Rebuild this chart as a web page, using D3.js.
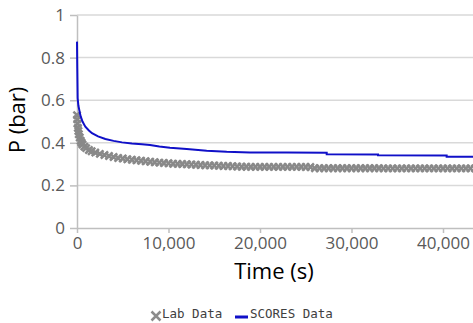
<!DOCTYPE html>
<html><head><meta charset="utf-8">
<script src="https://cdn.jsdelivr.net/npm/d3@7"></script>
<style>body{margin:0;background:#fff}svg{display:block}</style>
</head><body><svg id="c" width="473" height="323"></svg>
<script>
const yTicks = [0, 0.2, 0.4, 0.6, 0.8, 1];
const xTicks = [0, 10000, 20000, 30000, 40000];
const seriesNames = ["Lab Data", "SCORES Data"];
const xTitle = "Time (s)";
const yTitle = "P (bar)";

const labTime = [0,20,50,100,150,200,300,400,500,600,800,1000,1300,1600,
2000,2500,3000,3500,4000,4500,5000,5500,6000,6500,7000,7500,8000,8500,9000,9500,
10000,10500,11000,11500,12000,12500,13000,13500,14000,14500,15000,15500,16000,16500,17000,17500,
18000,18500,19000,19500,20000,20500,21000,21500,22000,22500,23000,23500,24000,24500,25000,25500,
26000,26500,27000,27500,28000,28500,29000,29500,30000,30500,31000,31500,32000,32500,33000,
33500,34000,34500,35000,35500,36000,36500,37000,37500,38000,38500,39000,39500,40000,40500,
41000,41500,42000,42500,43000,43500,44000];
const labP = [0.53,0.51,0.49,0.47,0.455,0.44,0.425,0.41,0.40,0.392,0.382,0.375,0.366,0.36,
0.354,0.348,0.343,0.338,0.333,0.329,0.326,0.323,0.320,0.318,0.316,0.313,0.311,0.309,0.307,0.305,
0.304,0.302,0.301,0.300,0.299,0.298,0.297,0.296,0.295,0.294,0.293,0.292,0.291,0.291,0.290,0.289,
0.288,0.288,0.287,0.287,0.287,0.287,0.287,0.287,0.287,0.287,0.287,0.287,0.287,0.287,0.286,0.286,
0.281,0.281,0.281,0.281,0.281,0.281,0.281,0.281,0.281,0.281,0.281,0.281,0.281,0.281,0.281,
0.280,0.280,0.280,0.280,0.280,0.280,0.280,0.280,0.280,0.280,0.280,0.280,0.280,0.280,
0.280,0.280,0.280,0.280,0.280,0.280,0.280,0.280];

const scoresTime = [0,30,70,150,360,600,910,1300,1640,2300,3100,4000,4920,6000,7100,7980,9000,
10160,11990,14170,16360,18900,22920,27290,27290,32900,32900,40400,40400,45000];
const scoresP = [0.875,0.75,0.61,0.575,0.53,0.5,0.476,0.458,0.445,0.43,0.418,0.409,0.402,0.397,0.393,0.39,0.383,
0.377,0.371,0.363,0.358,0.355,0.354,0.353,0.346,0.345,0.341,0.340,0.335,0.334];

const svg = d3.select("#c");
svg.append("rect").attr("width",473).attr("height",323).attr("fill","#fff");

const x = d3.scaleLinear().domain([0, 50000]).range([77, 534.5]);
const y = d3.scaleLinear().domain([0, 1]).range([228, 15]);

const font = "'Open Sans', sans-serif";

// gridlines
svg.append("g").selectAll("line").data(yTicks.filter(d => d > 0)).join("line")
  .attr("x1", x(0)).attr("x2", 473)
  .attr("y1", d => y(d)).attr("y2", d => y(d))
  .attr("stroke", "#d9d9d9").attr("stroke-width", 1.5);

// x axis
const gx = svg.append("g").attr("transform", `translate(0,${y(0)})`)
  .call(d3.axisBottom(x).tickValues(xTicks).tickSize(5).tickSizeOuter(0).tickFormat(d3.format(",")));
gx.select(".domain").attr("stroke", "#bfbfbf").attr("stroke-width", 1.5);
gx.selectAll(".tick line").attr("stroke", "#bfbfbf").attr("stroke-width", 1.5);
gx.selectAll(".tick text").attr("y", 21).attr("dy", 0)
  .attr("font-family", font).attr("font-size", 17).attr("fill", "#595959");

// y axis
const gy = svg.append("g").attr("transform", `translate(${x(0)},0)`)
  .call(d3.axisLeft(y).tickValues(yTicks).tickSize(7).tickSizeOuter(0).tickFormat(d => String(d)));
gy.select(".domain").attr("stroke", "#bfbfbf").attr("stroke-width", 1.5);
gy.selectAll(".tick line").attr("stroke", "#bfbfbf").attr("stroke-width", 1.5);
gy.selectAll(".tick text").attr("x", -12)
  .attr("font-family", font).attr("font-size", 17).attr("fill", "#595959");

// lab data markers
const xMark = "M-3.6,-3.6L3.6,3.6M-3.6,3.6L3.6,-3.6";
svg.append("g").selectAll("path").data(labTime.map((t, i) => [t, labP[i]])).join("path")
  .attr("transform", d => `translate(${x(d[0])},${y(d[1])})`)
  .attr("d", xMark).attr("stroke", "#898989").attr("stroke-width", 2.5).attr("fill", "none");

// scores line
const line = d3.line().x(d => x(d[0])).y(d => y(d[1]));
svg.append("path").datum(scoresTime.map((t, i) => [t, scoresP[i]]))
  .attr("d", line).attr("fill", "none").attr("stroke", "#1010c8").attr("stroke-width", 2);

// titles
svg.append("text").attr("x", 274).attr("y", 279).attr("text-anchor", "middle")
  .attr("font-family", font).attr("font-size", 22).attr("fill", "#000").text(xTitle);
svg.append("text").attr("transform", "translate(25,120) rotate(-90)").attr("text-anchor", "middle")
  .attr("font-family", font).attr("font-size", 22).attr("fill", "#000").text(yTitle);

// legend
const lg = svg.append("g");
const mono = "'DejaVu Sans Mono', monospace";
lg.append("path").attr("transform", "translate(156,316)").attr("d", "M-4.5,-4.5L4.5,4.5M-4.5,4.5L4.5,-4.5")
  .attr("stroke", "#8c8c8c").attr("stroke-width", 2.5).attr("fill", "none");
lg.append("text").attr("x", 162).attr("y", 318).attr("font-family", mono).attr("font-size", 12.5)
  .attr("fill", "#404040").text(seriesNames[0]);
lg.append("line").attr("x1", 235).attr("x2", 248).attr("y1", 317).attr("y2", 317)
  .attr("stroke", "#1010c8").attr("stroke-width", 3);
lg.append("text").attr("x", 250).attr("y", 318).attr("font-family", mono).attr("font-size", 12.5)
  .attr("fill", "#404040").text(seriesNames[1]);
</script></body></html>
